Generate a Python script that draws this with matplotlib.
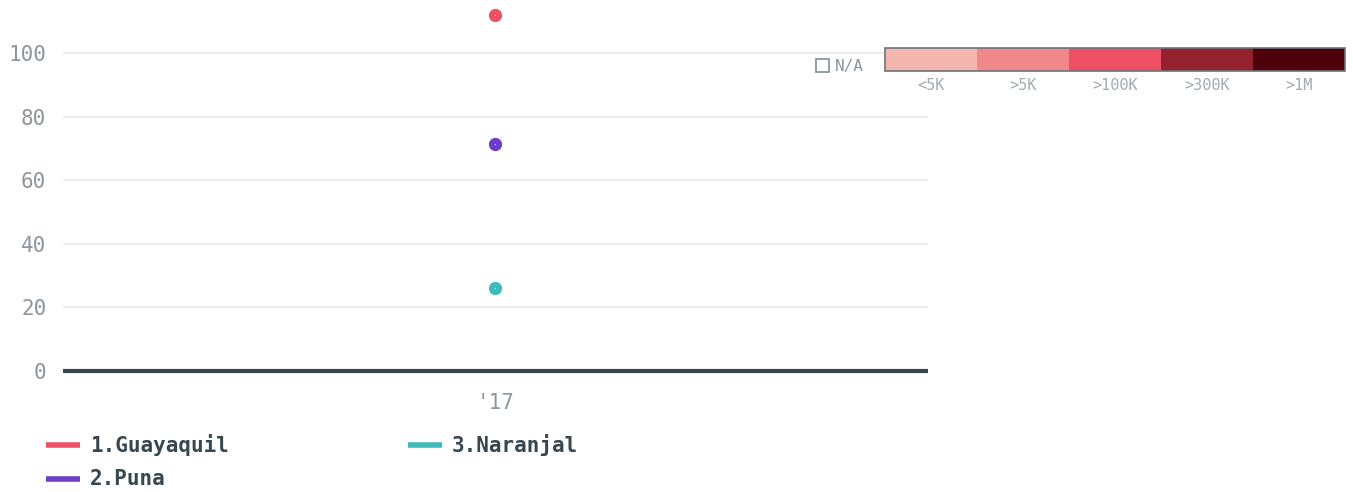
import matplotlib
matplotlib.use("Agg")
import matplotlib.pyplot as plt
from matplotlib.patches import Rectangle
from matplotlib.lines import Line2D

categories = ["'17"]
series_names = ["1.Guayaquil", "2.Puna", "3.Naranjal"]
series_values = [[112.0], [71.5], [26.0]]
series_colors = ["#ee4f63", "#6c3dc8", "#3dbab9"]
y_ticks = [0, 20, 40, 60, 80, 100]
scale_labels = ["<5K", ">5K", ">100K", ">300K", ">1M"]
scale_colors = ["#f4b6ae", "#f0878a", "#ef4f62", "#93212e", "#50000a"]

W, H = 1353, 492
fig = plt.figure(figsize=(W / 100, H / 100), dpi=100)
ax = fig.add_axes([63 / W, (H - 371) / H, (928 - 63) / W, 371 / H])

xs = list(range(len(categories)))
for name, vals, col in zip(series_names, series_values, series_colors):
    ax.plot(xs, vals, marker="o", markersize=8.5, color=col, linestyle="-",
            linewidth=3, clip_on=False, zorder=5)
    ax.plot(xs, vals, marker="o", markersize=0.7, markeredgewidth=0,
            color="white", linestyle="none", clip_on=False, zorder=6)

ax.set_xlim(-1, 1)
ax.set_ylim(0, 116.7)
ax.set_xticks(xs)
ax.set_xticklabels(categories)
ax.set_yticks(y_ticks)
ax.grid(axis="y", color="#e9e9e9", linewidth=1.2)
ax.set_axisbelow(True)
for s in ["top", "right", "left"]:
    ax.spines[s].set_visible(False)
ax.spines["bottom"].set_color("#37474f")
ax.spines["bottom"].set_linewidth(3)
ax.spines["bottom"].set_capstyle("butt")
ax.tick_params(axis="both", length=0, labelsize=15, colors="#8b969e")
ax.tick_params(axis="x", pad=16)
ax.tick_params(axis="y", pad=12)
for lab in ax.get_xticklabels() + ax.get_yticklabels():
    lab.set_family("DejaVu Sans Mono")

# color scale legend (figure coordinates in pixels)
def fx(px):
    return px / W

def fy(py):
    return (H - py) / H

x0, x1 = 885, 1345
bw = (x1 - x0) / len(scale_colors)
for i, (c, lab) in enumerate(zip(scale_colors, scale_labels)):
    fig.patches.append(Rectangle((fx(x0 + i * bw), fy(71)), bw / W, 23 / H,
                                 transform=fig.transFigure, facecolor=c,
                                 edgecolor="none"))
    fig.text(fx(x0 + (i + 0.5) * bw), fy(85), lab, ha="center", va="center",
             fontsize=11, color="#a3aab0", family="DejaVu Sans Mono")
fig.patches.append(Rectangle((fx(x0), fy(71)), (x1 - x0) / W, 23 / H,
                             transform=fig.transFigure, facecolor="none",
                             edgecolor="#6b747a", linewidth=1.2))
fig.patches.append(Rectangle((fx(816), fy(72)), 13 / W, 13 / H,
                             transform=fig.transFigure, facecolor="none",
                             edgecolor="#8b969e", linewidth=1.3))
fig.text(fx(835), fy(66), "N/A", ha="left", va="center", fontsize=11.5,
         color="#8b969e", family="DejaVu Sans Mono")

# series legend
leg_pos = [(46, 445), (46, 479), (408, 445)]
for (px, py), name, col in zip(leg_pos, series_names, series_colors):
    fig.add_artist(Line2D([fx(px), fx(px + 34)], [fy(py), fy(py)],
                          transform=fig.transFigure, color=col, linewidth=4,
                          solid_capstyle="butt"))
    fig.text(fx(px + 44), fy(py), name, ha="left", va="center", fontsize=15,
             fontweight="bold", color="#37474f", family="DejaVu Sans Mono")

fig.savefig("out.png", dpi=100)
